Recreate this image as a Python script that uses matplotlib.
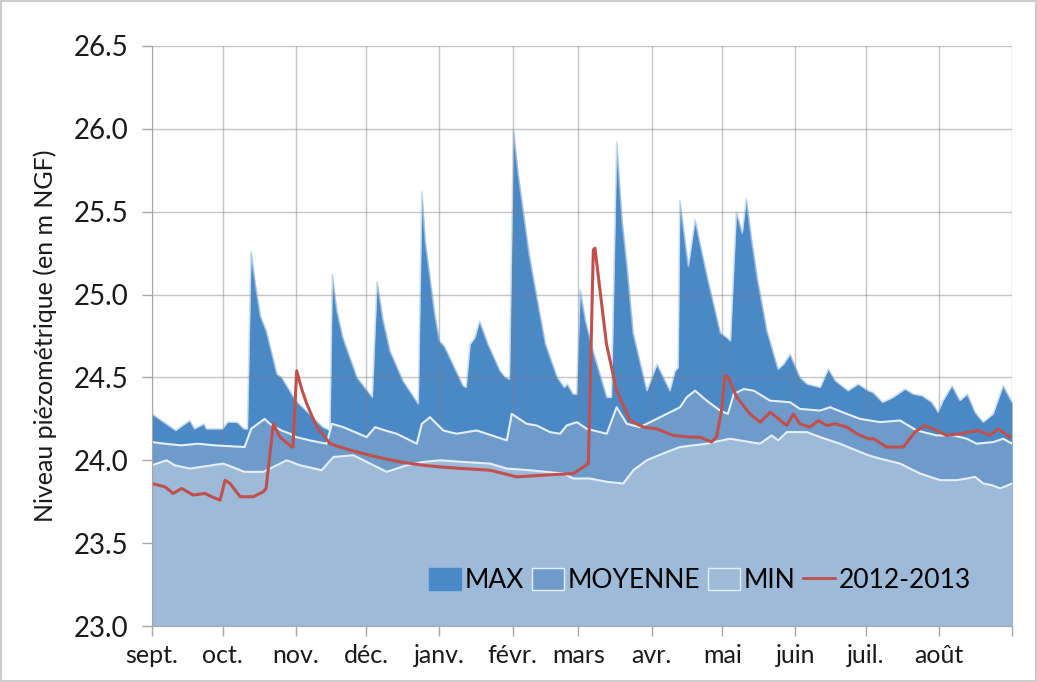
import matplotlib
matplotlib.use("Agg")
import matplotlib.pyplot as plt
from matplotlib.patches import Patch, Rectangle
from matplotlib.lines import Line2D

# jours depuis le 1er septembre
mois = ["sept.", "oct.", "nov.", "déc.", "janv.", "févr.", "mars", "avr.", "mai", "juin", "juil.", "août"]
debut_mois = [0, 30, 61, 91, 122, 153, 181, 212, 242, 273, 303, 334]

jours_max = [0, 10, 16, 18, 22, 23, 30, 32, 36, 39, 40.5, 42, 44, 46, 48.5, 53, 55, 61, 72.5, 75.5,
             76.5, 78.5, 81, 87, 93.5, 95.5, 98, 101, 106.5, 113, 114.5, 116, 118, 120, 122, 124,
             132, 133.3, 135, 137, 139, 142.6, 147.7, 150, 151.7, 153.4, 155.5, 157.5, 160, 163,
             167, 172, 175, 176.2, 178.7, 180.2, 181.7, 184, 187.2, 193, 195, 197.2, 199.5, 201.6,
             204.2, 210, 214.3, 219.8, 222, 223.3, 224, 227.6, 230.5, 233, 235.6, 241.2, 244,
             245.5, 248, 250.5, 252.2, 254.5, 257, 261, 265.7, 268, 270.8, 275, 278, 283.6, 287,
             290, 295.4, 299.7, 304, 306, 310, 314.5, 319.6, 323, 326.8, 330.9, 333.6, 335.7,
             339.5, 342.9, 346, 349.3, 352.7, 357, 361.2, 365]
val_max = [24.28, 24.18, 24.24, 24.19, 24.22, 24.19, 24.19, 24.23, 24.23, 24.19, 24.19, 25.26,
           25.05, 24.87, 24.78, 24.52, 24.50, 24.36, 24.20, 24.18, 25.12, 24.90, 24.74, 24.50,
           24.38, 25.08, 24.85, 24.66, 24.48, 24.34, 25.62, 25.32, 25.10, 24.88, 24.72, 24.69,
           24.45, 24.44, 24.70, 24.74, 24.84, 24.70, 24.54, 24.50, 24.49, 25.99, 25.72, 25.51,
           25.25, 25.01, 24.70, 24.50, 24.44, 24.46, 24.40, 24.40, 25.03, 24.84, 24.66, 24.38,
           24.38, 25.92, 25.45, 25.17, 24.77, 24.42, 24.58, 24.42, 24.54, 24.56, 25.57, 25.17,
           25.45, 25.28, 25.11, 24.77, 24.74, 24.72, 25.50, 25.37, 25.58, 25.33, 25.09, 24.78,
           24.55, 24.58, 24.64, 24.50, 24.46, 24.44, 24.55, 24.48, 24.42, 24.46, 24.42, 24.41,
           24.35, 24.38, 24.43, 24.40, 24.39, 24.35, 24.29, 24.36, 24.45, 24.36, 24.40, 24.29,
           24.23, 24.28, 24.45, 24.35]

jours_moy = [0, 5.4, 12.4, 19.5, 26.6, 39.3, 42.1, 47.8, 50, 54.9, 58.6, 61.2, 67, 74.1, 76.3,
             81.2, 91.1, 94.7, 98.9, 103.9, 112.4, 114.5, 118, 122.2, 123.6, 129.2, 137.8, 150.6,
             152.7, 159, 163.3, 168.9, 173.2, 176, 180.3, 184.5, 193, 197.2, 201.5, 207.1, 212.8,
             218.5, 224.1, 226.9, 230.5, 235.4, 241.1, 244.4, 246.9, 251.2, 255.4, 262.3, 270.8,
             275, 283.5, 287.8, 294.9, 300.5, 309, 317.5, 324.5, 333, 340.1, 345.8, 350, 357.1,
             361.3, 365]
val_moy = [24.11, 24.10, 24.09, 24.10, 24.09, 24.08, 24.19, 24.25, 24.22, 24.18, 24.16, 24.14,
           24.12, 24.10, 24.22, 24.20, 24.14, 24.20, 24.18, 24.16, 24.10, 24.22, 24.26, 24.20,
           24.18, 24.16, 24.18, 24.12, 24.28, 24.22, 24.21, 24.17, 24.16, 24.21, 24.23, 24.19,
           24.16, 24.32, 24.22, 24.20, 24.24, 24.28, 24.32, 24.38, 24.42, 24.36, 24.30, 24.28,
           24.40, 24.43, 24.42, 24.36, 24.35, 24.31, 24.30, 24.32, 24.28, 24.25, 24.23, 24.24,
           24.18, 24.15, 24.15, 24.13, 24.10, 24.11, 24.13, 24.10]

jours_min = [0, 6.2, 9.6, 16.1, 30.3, 39.3, 47.2, 57.2, 62.8, 72, 77, 85.4, 88.3, 99.6, 108.1,
             115.2, 122.2, 132.1, 143.5, 150.6, 160.4, 174.6, 178.8, 185.9, 193, 200, 204.3, 210,
             218.5, 224.1, 235.4, 245.3, 258, 263, 265.8, 269.4, 277.9, 283.5, 292, 304, 309,
             317.5, 326, 334.5, 341.5, 345.8, 349.3, 352.8, 356.4, 360, 365]
val_min = [23.97, 24.00, 23.97, 23.95, 23.98, 23.93, 23.93, 24.00, 23.97, 23.94, 24.02, 24.03,
           24.01, 23.93, 23.97, 23.99, 24.00, 23.99, 23.98, 23.95, 23.94, 23.92, 23.89, 23.89,
           23.87, 23.86, 23.94, 24.00, 24.05, 24.08, 24.10, 24.13, 24.10, 24.15, 24.12, 24.17,
           24.17, 24.14, 24.10, 24.03, 24.01, 23.98, 23.92, 23.88, 23.88, 23.89, 23.90, 23.86,
           23.85, 23.83, 23.86]

jours_2012 = [0, 5.5, 9, 12.6, 17.5, 22.5, 25.3, 28.9, 31, 33.1, 37.4, 43, 47.2, 48.4, 51.5, 54.3,
              59.3, 59.8, 61.4, 63.5, 65.7, 69.9, 75.6, 79.8, 86.9, 95.4, 105.3, 115.2, 122.2,
              132.1, 143.5, 154.8, 166, 178.8, 183.1, 185.2, 187.3, 188, 190.1, 192.9, 197.2,
              202.9, 208.5, 214.2, 221.2, 228.3, 232.5, 237.5, 239.6, 241.7, 243.2, 244.6, 248.2,
              253.8, 258.1, 262.3, 269.4, 272.2, 275, 279.2, 282.8, 286.3, 290, 294.9, 299.1, 304,
              306.2, 311.8, 318.9, 323.8, 328, 333, 337.3, 342.9, 350.6, 355.6, 359.2, 364.2]
val_2012 = [23.86, 23.84, 23.80, 23.83, 23.79, 23.80, 23.78, 23.76, 23.88, 23.86, 23.78, 23.78,
            23.81, 23.83, 24.22, 24.14, 24.08, 24.08, 24.54, 24.43, 24.34, 24.20, 24.10, 24.08,
            24.05, 24.02, 23.99, 23.97, 23.96, 23.95, 23.94, 23.90, 23.91, 23.92, 23.96, 23.98,
            25.27, 25.28, 25.03, 24.70, 24.42, 24.24, 24.20, 24.19, 24.15, 24.14, 24.14, 24.11,
            24.14, 24.30, 24.51, 24.50, 24.38, 24.28, 24.23, 24.29, 24.21, 24.28, 24.22, 24.20,
            24.24, 24.21, 24.22, 24.20, 24.16, 24.13, 24.13, 24.08, 24.08, 24.17, 24.21, 24.18,
            24.15, 24.16, 24.18, 24.15, 24.19, 24.14]

c_max = "#4A89C5"
c_moy = "#6F9BCA"
c_min = "#9DBAD9"
c_rouge = "#C0504D"

plt.rcParams["font.family"] = ["Lato", "DejaVu Sans"]

fig = plt.figure(figsize=(10.37, 6.82), dpi=100)
ax = fig.add_axes([0.1466, 0.0821, 0.8293, 0.8505])

bas = 23.0
ax.fill_between(jours_max, bas, val_max, color=c_max, lw=0, zorder=2)
ax.plot(jours_max, val_max, color="#BBD3EC", lw=1.2, alpha=0.7, zorder=2.1)
ax.fill_between(jours_moy, bas, val_moy, color=c_moy, lw=0, zorder=3)
ax.plot(jours_moy, val_moy, color="#E6F0FA", lw=1.5, zorder=3.1)
ax.fill_between(jours_min, bas, val_min, color=c_min, lw=0, zorder=4)
ax.plot(jours_min, val_min, color="#E6F0FA", lw=1.5, zorder=4.1)
ax.plot(jours_2012, val_2012, color=c_rouge, lw=2.2, zorder=6)

ax.set_xlim(0, 365)
ax.set_ylim(23.0, 26.5)
ax.set_xticks(debut_mois + [365])
ax.set_xticklabels(mois + [""])
ax.set_yticks([23.0, 23.5, 24.0, 24.5, 25.0, 25.5, 26.0, 26.5])
ax.set_yticklabels(["23.0", "23.5", "24.0", "24.5", "25.0", "25.5", "26.0", "26.5"])

ax.grid(True, color="#7F7F7F", alpha=0.45, lw=1, zorder=5)
ax.set_axisbelow(False)
for s in ["top", "right"]:
    ax.spines[s].set_visible(False)
for s in ["left", "bottom"]:
    ax.spines[s].set_color("#A6A6A6")
    ax.spines[s].set_zorder(7)
ax.tick_params(axis="both", colors="#A6A6A6", labelcolor="#1A1A1A", length=7, width=1,
               labelsize=18)
ax.tick_params(axis="y", pad=10, labelsize=20)
ax.tick_params(axis="x", pad=6)

ax.set_ylabel("Niveau piézométrique (en m NGF)", fontsize=18, color="#1A1A1A", labelpad=12)

poignees = [Patch(facecolor=c_max, edgecolor=c_max),
            Patch(facecolor=c_moy, edgecolor="#E6F0FA"),
            Patch(facecolor=c_min, edgecolor="#E6F0FA"),
            Line2D([0], [0], color=c_rouge, lw=2)]
leg = ax.legend(poignees, ["MAX", "MOYENNE", "MIN", "2012-2013"], ncol=4, frameon=False,
                loc="center right", bbox_to_anchor=(0.98, 0.079), fontsize=19,
                handlelength=1.2, handleheight=0.9, handletextpad=0.15, columnspacing=0.3)
leg.set_zorder(8)

fig.patches.append(Rectangle((0.001, 0.001), 0.998, 0.997, transform=fig.transFigure,
                             fill=False, edgecolor="#CCCCCC", lw=1.5))

fig.savefig("out.png", dpi=100)
